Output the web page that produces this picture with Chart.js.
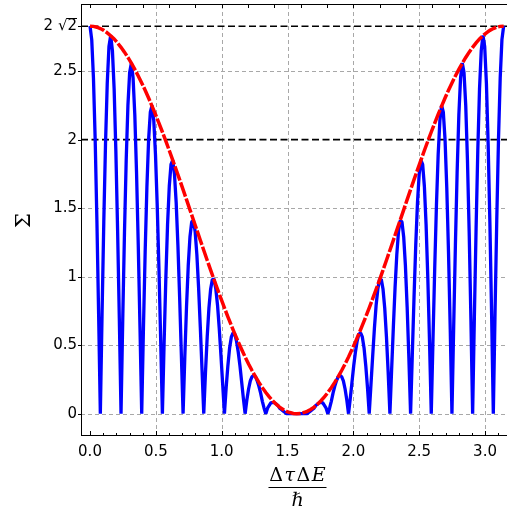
<!DOCTYPE html>
<html><head><meta charset="utf-8">
<script src="https://cdn.jsdelivr.net/npm/chart.js@4"></script>
<style>html,body{margin:0;padding:0;background:#fff;} canvas{display:block;}</style>
</head><body>
<canvas id="c" width="507" height="512"></canvas>
<script>
// x values of the blue curve (ΔτΔE/ħ)
const sigmaX = [
0, 0.0131, 0.0262, 0.0393, 0.0524, 0.0654, 0.0785, 0.0916, 0.1047, 0.1178,
0.1309, 0.1440, 0.1571, 0.1702, 0.1833, 0.1963, 0.2094, 0.2225, 0.2356, 0.2487,
0.2618, 0.2749, 0.2880, 0.3011, 0.3142, 0.3272, 0.3403, 0.3534, 0.3665, 0.3796,
0.3927, 0.4058, 0.4189, 0.4320, 0.4451, 0.4581, 0.4712, 0.4843, 0.4974, 0.5105,
0.5236, 0.5367, 0.5498, 0.5629, 0.5760, 0.5890, 0.6021, 0.6152, 0.6283, 0.6414,
0.6545, 0.6676, 0.6807, 0.6938, 0.7069, 0.7199, 0.7330, 0.7461, 0.7592, 0.7723,
0.7854, 0.7985, 0.8116, 0.8247, 0.8378, 0.8508, 0.8639, 0.8770, 0.8901, 0.9032,
0.9163, 0.9294, 0.9425, 0.9556, 0.9687, 0.9817, 0.9948, 1.0079, 1.0210, 1.0341,
1.0472, 1.0603, 1.0734, 1.0865, 1.0996, 1.1126, 1.1257, 1.1388, 1.1519, 1.1650,
1.1781, 1.1912, 1.2043, 1.2174, 1.2305, 1.2435, 1.2566, 1.2697, 1.2828, 1.2959,
1.3090, 1.3221, 1.3352, 1.3483, 1.3614, 1.3744, 1.3875, 1.4006, 1.4137, 1.4268,
1.4399, 1.4530, 1.4661, 1.4792, 1.4923, 1.5053, 1.5184, 1.5315, 1.5446, 1.5577,
1.5708, 1.5839, 1.5970, 1.6101, 1.6232, 1.6362, 1.6493, 1.6624, 1.6755, 1.6886,
1.7017, 1.7148, 1.7279, 1.7410, 1.7541, 1.7671, 1.7802, 1.7933, 1.8064, 1.8195,
1.8326, 1.8457, 1.8588, 1.8719, 1.8850, 1.8980, 1.9111, 1.9242, 1.9373, 1.9504,
1.9635, 1.9766, 1.9897, 2.0028, 2.0159, 2.0289, 2.0420, 2.0551, 2.0682, 2.0813,
2.0944, 2.1075, 2.1206, 2.1337, 2.1468, 2.1598, 2.1729, 2.1860, 2.1991, 2.2122,
2.2253, 2.2384, 2.2515, 2.2646, 2.2777, 2.2907, 2.3038, 2.3169, 2.3300, 2.3431,
2.3562, 2.3693, 2.3824, 2.3955, 2.4086, 2.4216, 2.4347, 2.4478, 2.4609, 2.4740,
2.4871, 2.5002, 2.5133, 2.5264, 2.5395, 2.5525, 2.5656, 2.5787, 2.5918, 2.6049,
2.6180, 2.6311, 2.6442, 2.6573, 2.6704, 2.6834, 2.6965, 2.7096, 2.7227, 2.7358,
2.7489, 2.7620, 2.7751, 2.7882, 2.8013, 2.8143, 2.8274, 2.8405, 2.8536, 2.8667,
2.8798, 2.8929, 2.9060, 2.9191, 2.9322, 2.9452, 2.9583, 2.9714, 2.9845, 2.9976,
3.0107, 3.0238, 3.0369, 3.0500, 3.0631, 3.0761, 3.0892, 3.1023, 3.1154, 3.1285,
3.1416];

// blue oscillating curve Σ
const sigmaY = [
2.83, 2.73, 2.45, 2.00, 1.41, 0.73, 0, 0.73, 1.40, 1.97,
2.41, 2.68, 2.76, 2.65, 2.37, 1.92, 1.35, 0.70, 0, 0.69,
1.32, 1.85, 2.25, 2.49, 2.56, 2.45, 2.18, 1.76, 1.23, 0.63,
0, 0.62, 1.18, 1.65, 2.00, 2.20, 2.25, 2.14, 1.89, 1.52,
1.06, 0.54, 0, 0.52, 0.99, 1.38, 1.66, 1.82, 1.85, 1.75,
1.54, 1.23, 0.85, 0.43, 0, 0.41, 0.78, 1.08, 1.29, 1.40,
1.41, 1.33, 1.16, 0.92, 0.63, 0.32, 0, 0.30, 0.56, 0.77,
0.91, 0.98, 0.98, 0.91, 0.79, 0.62, 0.42, 0.21, 0, 0.19,
0.35, 0.48, 0.56, 0.59, 0.58, 0.53, 0.45, 0.35, 0.23, 0.11,
0, 0.10, 0.18, 0.24, 0.27, 0.28, 0.27, 0.24, 0.20, 0.15,
0.09, 0.04, 0, 0.04, 0.06, 0.08, 0.08, 0.08, 0.07, 0.06,
0.04, 0.03, 0.02, 0.01, 0, 0.00, 0.00, 0.00, 0.00, 0.00,
0,
0.00, 0.00, 0.00, 0.00, 0.00, 0, 0.01, 0.02, 0.03, 0.04,
0.06, 0.07, 0.08, 0.08, 0.08, 0.06, 0.04, 0, 0.04, 0.09,
0.15, 0.20, 0.24, 0.27, 0.28, 0.27, 0.24, 0.18, 0.10, 0,
0.11, 0.23, 0.35, 0.45, 0.53, 0.58, 0.59, 0.56, 0.48, 0.35,
0.19, 0, 0.21, 0.42, 0.62, 0.79, 0.91, 0.98, 0.98, 0.91,
0.77, 0.56, 0.30, 0, 0.32, 0.63, 0.92, 1.16, 1.33, 1.41,
1.40, 1.29, 1.08, 0.78, 0.41, 0, 0.43, 0.85, 1.23, 1.54,
1.75, 1.85, 1.82, 1.66, 1.38, 0.99, 0.52, 0, 0.54, 1.06,
1.52, 1.89, 2.14, 2.25, 2.20, 2.00, 1.65, 1.18, 0.62, 0,
0.63, 1.23, 1.76, 2.18, 2.45, 2.56, 2.49, 2.25, 1.85, 1.32,
0.69, 0, 0.70, 1.35, 1.92, 2.37, 2.65, 2.76, 2.68, 2.41,
1.97, 1.40, 0.73, 0, 0.73, 1.41, 2.00, 2.45, 2.73, 2.83];

// x values of the red envelope
const envX = [
0, 0.0262, 0.0524, 0.0785, 0.1047, 0.1309, 0.1571, 0.1833, 0.2094, 0.2356,
0.2618, 0.2880, 0.3142, 0.3403, 0.3665, 0.3927, 0.4189, 0.4451, 0.4712, 0.4974,
0.5236, 0.5498, 0.5760, 0.6021, 0.6283, 0.6545, 0.6807, 0.7069, 0.7330, 0.7592,
0.7854, 0.8116, 0.8378, 0.8639, 0.8901, 0.9163, 0.9425, 0.9687, 0.9948, 1.0210,
1.0472, 1.0734, 1.0996, 1.1257, 1.1519, 1.1781, 1.2043, 1.2305, 1.2566, 1.2828,
1.3090, 1.3352, 1.3614, 1.3875, 1.4137, 1.4399, 1.4661, 1.4923, 1.5184, 1.5446,
1.5708, 1.5970, 1.6232, 1.6493, 1.6755, 1.7017, 1.7279, 1.7541, 1.7802, 1.8064,
1.8326, 1.8588, 1.8850, 1.9111, 1.9373, 1.9635, 1.9897, 2.0159, 2.0420, 2.0682,
2.0944, 2.1206, 2.1468, 2.1729, 2.1991, 2.2253, 2.2515, 2.2777, 2.3038, 2.3300,
2.3562, 2.3824, 2.4086, 2.4347, 2.4609, 2.4871, 2.5133, 2.5395, 2.5656, 2.5918,
2.6180, 2.6442, 2.6704, 2.6965, 2.7227, 2.7489, 2.7751, 2.8013, 2.8274, 2.8536,
2.8798, 2.9060, 2.9322, 2.9583, 2.9845, 3.0107, 3.0369, 3.0631, 3.0892, 3.1154,
3.1416];

// red dashed envelope
const envelopeY = [
2.828, 2.827, 2.821, 2.811, 2.798, 2.780, 2.759, 2.735, 2.706, 2.674,
2.639, 2.600, 2.558, 2.513, 2.465, 2.414, 2.361, 2.304, 2.245, 2.184,
2.121, 2.056, 1.989, 1.921, 1.851, 1.780, 1.708, 1.635, 1.562, 1.488,
1.414, 1.340, 1.266, 1.193, 1.120, 1.048, 0.977, 0.907, 0.839, 0.772,
0.707, 0.644, 0.583, 0.524, 0.468, 0.414, 0.363, 0.315, 0.270, 0.228,
0.190, 0.154, 0.122, 0.094, 0.069, 0.048, 0.031, 0.017, 0.008, 0.002,
0.000,
0.002, 0.008, 0.017, 0.031, 0.048, 0.069, 0.094, 0.122, 0.154, 0.190,
0.228, 0.270, 0.315, 0.363, 0.414, 0.468, 0.524, 0.583, 0.644, 0.707,
0.772, 0.839, 0.907, 0.977, 1.048, 1.120, 1.193, 1.266, 1.340, 1.414,
1.488, 1.562, 1.635, 1.708, 1.780, 1.851, 1.921, 1.989, 2.056, 2.121,
2.184, 2.245, 2.304, 2.361, 2.414, 2.465, 2.513, 2.558, 2.600, 2.639,
2.674, 2.706, 2.735, 2.759, 2.780, 2.798, 2.811, 2.821, 2.827, 2.828];

const xTickValues = [0, 0.5, 1, 1.5, 2, 2.5, 3];
const xTickLabels = ['0.0', '0.5', '1.0', '1.5', '2.0', '2.5', '3.0'];
const yTickValues = [0, 0.5, 1, 1.5, 2, 2.5, 2.8284];
const yTickLabels = ['0', '0.5', '1', '1.5', '2', '2.5', '2 √2'];
const xGridValues = [0.5, 1, 1.5, 2, 2.5, 3];
const yGridValues = [0, 0.5, 1, 1.5, 2.5];
const refLevels = [2, 2.8284];
const xRange = [-0.0684, 3.167];
const yRange = [-0.163, 2.983];

function seg(ctx, x1, y1, x2, y2) { ctx.beginPath(); ctx.moveTo(x1, y1); ctx.lineTo(x2, y2); ctx.stroke(); }
function noPad(s) { s.paddingTop = 0; s.paddingBottom = 0; s.paddingLeft = 0; s.paddingRight = 0; }

const framePlugin = {
  id: 'frame',
  beforeDatasetsDraw(chart) {
    const { ctx, chartArea: a, scales: { x, y } } = chart;
    ctx.save();
    ctx.lineWidth = 1; ctx.strokeStyle = '#a8a8a8'; ctx.setLineDash([4, 3]);
    xGridValues.forEach(v => { const p = Math.round(x.getPixelForValue(v)) + 0.5; seg(ctx, p, a.top, p, a.bottom); });
    yGridValues.forEach(v => { const p = Math.round(y.getPixelForValue(v)) + 0.5; seg(ctx, a.left, p, a.right, p); });
    ctx.strokeStyle = '#000'; ctx.lineWidth = 1.6; ctx.setLineDash([7, 3.5]);
    refLevels.forEach(v => { const p = y.getPixelForValue(v); seg(ctx, a.left, p, a.right, p); });
    ctx.restore();
  },
  afterDraw(chart) {
    const { ctx, chartArea: a, scales: { x, y } } = chart;
    ctx.save();
    ctx.setLineDash([]); ctx.strokeStyle = '#000'; ctx.lineWidth = 1;
    seg(ctx, a.left + 0.5, a.top - 0.5, a.left + 0.5, a.bottom);
    seg(ctx, a.left, a.bottom - 0.5, a.right, a.bottom - 0.5);
    seg(ctx, a.left, a.top - 0.5, a.right, a.top - 0.5);
    for (let k = 0; k <= 31; k++) {
      const p = Math.round(x.getPixelForValue(k / 10)) + 0.5;
      seg(ctx, p, a.bottom, p, a.bottom - ((k % 5 === 0) ? 5 : 3));
    }
    for (let k = 0; k <= 15; k++) {
      const p = Math.round(x.getPixelForValue(k / 5)) + 0.5;
      seg(ctx, p, a.top, p, a.top + 3);
    }
    yTickValues.forEach(v => { const p = Math.round(y.getPixelForValue(v)) + 0.5; seg(ctx, a.left - 3, p, a.left, p); });
    // overline of the square root in "2 √2"
    ctx.font = '15px "DejaVu Sans"'; ctx.textBaseline = 'middle';
    const right = a.left - 4;
    const w2 = ctx.measureText('2').width;
    const asc = ctx.measureText('√').actualBoundingBoxAscent;
    const py = y.getPixelForValue(yTickValues[6]);
    const oy = Math.round(py - asc) + 0.5;
    seg(ctx, right - w2 - 0.5, oy, right, oy);
    // x axis title: fraction ΔτΔE / ħ
    const cx = (a.left + a.right) / 2 + 3.5;
    const parts = [['Δ', ''], ['τ', 'italic '], ['Δ', ''], ['E', 'italic ']];
    const fs = 19;
    let total = 0;
    const widths = parts.map(([t, st]) => { ctx.font = st + fs + 'px "DejaVu Serif"'; const w = ctx.measureText(t).width; total += w; return w; });
    const gap = Math.min(1.5, Math.max(0, (58 - total) / 3));
    let xx = cx - (total + gap * 3) / 2;
    ctx.fillStyle = '#000'; ctx.textBaseline = 'alphabetic'; ctx.textAlign = 'left';
    parts.forEach(([t, st], i) => { ctx.font = st + fs + 'px "DejaVu Serif"'; ctx.fillText(t, xx, 480.5); xx += widths[i] + gap; });
    seg(ctx, cx - 29, 487.5, cx + 29, 487.5);
    ctx.font = 'italic ' + fs + 'px "DejaVu Serif"'; ctx.textAlign = 'center';
    ctx.fillText('ℏ', cx, 506);
    ctx.restore();
  }
};

new Chart(document.getElementById('c'), {
  type: 'line',
  data: {
    datasets: [
      { label: 'envelope', data: envX.map((v, i) => ({ x: v, y: envelopeY[i] })), borderColor: '#ff0000', borderWidth: 3.5, borderDash: [15, 2], pointRadius: 0, order: 0, tension: 0 },
      { label: 'Σ', data: sigmaX.map((v, i) => ({ x: v, y: sigmaY[i] })), borderColor: '#0000ff', borderWidth: 3.3, borderJoinStyle: 'bevel', pointRadius: 0, order: 1, tension: 0 }
    ]
  },
  options: {
    responsive: false, animation: false, devicePixelRatio: 1,
    layout: { padding: { top: 5, left: 0, right: 0, bottom: 0 } },
    plugins: { legend: { display: false }, tooltip: { enabled: false } },
    scales: {
      x: {
        type: 'linear', min: xRange[0], max: xRange[1], bounds: 'data',
        grid: { display: false, drawTicks: false }, border: { display: false },
        afterBuildTicks: s => { s.ticks = xTickValues.map(v => ({ value: v })); },
        ticks: { autoSkip: false, maxRotation: 0, padding: 7, color: '#000', font: { family: 'DejaVu Sans', size: 15 }, callback: (v, i) => xTickLabels[i] },
        afterFit: s => { s.height = 76; noPad(s); }
      },
      y: {
        type: 'linear', min: yRange[0], max: yRange[1], bounds: 'data',
        grid: { display: false, drawTicks: false }, border: { display: false },
        afterBuildTicks: s => { s.ticks = yTickValues.map(v => ({ value: v })); },
        ticks: { autoSkip: false, padding: 4, color: '#000', font: { family: 'DejaVu Sans', size: 15 }, callback: (v, i) => yTickLabels[i] },
        title: { display: true, text: 'Σ', color: '#000', font: { family: 'DejaVu Serif', size: 21 }, padding: { top: 12, bottom: 0 } },
        afterFit: s => { s.width = 81; noPad(s); }
      }
    }
  },
  plugins: [framePlugin]
});
</script>
</body></html>
